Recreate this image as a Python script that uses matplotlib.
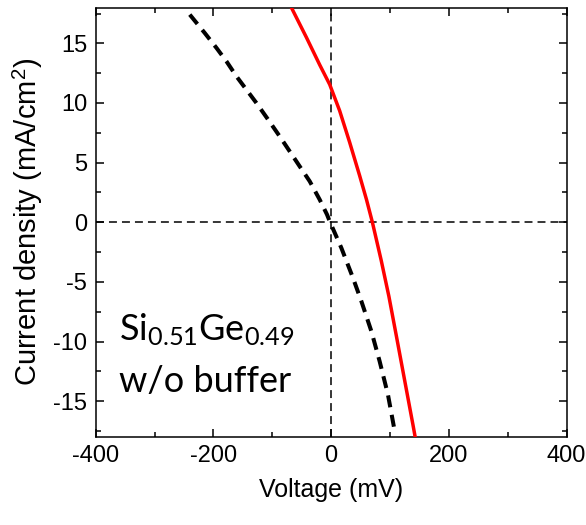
import matplotlib
matplotlib.use("Agg")
import matplotlib.pyplot as plt
from matplotlib.ticker import MultipleLocator

plt.rcParams['font.family'] = ['Liberation Sans', 'DejaVu Sans']
plt.rcParams['axes.unicode_minus'] = False
plt.rcParams['mathtext.fontset'] = 'custom'
plt.rcParams['mathtext.rm'] = 'Lato'
plt.rcParams['mathtext.it'] = 'Lato'
plt.rcParams['mathtext.sf'] = 'Liberation Sans'

# Data
v_red = [-67.6, -42.1, -19.5, -2.5, 14.4, 31.4, 48.4, 60, 70,
         85, 98, 111, 125, 139, 146]
j_red = [18.0, 15.5, 13.2, 11.55, 9.35, 6.7, 3.9, 1.9, 0,
         -3.2, -6.2, -9.6, -13.3, -17.0, -18.9]

v_black = [-240.2, -214.8, -194.9, -178, -161, -144, -127, -107, -87.4, -70.5,
           -53.5, -36.5, -19.5, -7.1, -2.5, 17.3, 37, 51.3, 68.3, 82.3, 96.4, 107.5]
j_black = [17.41, 15.87, 14.62, 13.5, 12.24, 11.12, 10.0, 8.6, 7.2, 5.95,
           4.69, 3.44, 1.9, 0.65, 0.08, -2.15, -4.66, -6.62, -9.14, -11.65, -14.44, -17.4]

x_ticks = [-400, -200, 0, 200, 400]
y_ticks = [-15, -10, -5, 0, 5, 10, 15]

fig = plt.figure(figsize=(5.86, 5.25), dpi=100)
ax = fig.add_axes([0.1633, 0.1676, 0.8037, 0.818])

ax.axhline(0, color='black', lw=1.1, dashes=(5.2, 3.3), zorder=1)
ax.axvline(0, color='black', lw=1.1, dashes=(5.2, 3.3), zorder=1)

ax.plot(v_black, j_black, color='black', lw=2.9, dashes=(3, 1.9), zorder=2)
ax.plot(v_red, j_red, color='#ff0000', lw=2.5, zorder=3)

ax.set_xlim(-400, 400)
ax.set_ylim(-18, 18)
ax.set_xticks(x_ticks)
ax.set_yticks(y_ticks)
ax.xaxis.set_minor_locator(MultipleLocator(100))
ax.yaxis.set_minor_locator(MultipleLocator(2.5))
ax.tick_params(which='both', direction='in', top=True, right=True, width=1.1,
               labelsize=17, labelright=False, labeltop=False)
ax.tick_params(which='major', length=5.8, pad=6)
ax.tick_params(which='minor', length=3.6)
for s in ax.spines.values():
    s.set_linewidth(1.1)

ax.set_xlabel('Voltage (mV)', fontsize=18, labelpad=8)
ax.set_ylabel(r'Current density (mA/cm$^\mathsf{2}$)', fontsize=21, labelpad=6)

fig.text(119 / 586, 1 - 340 / 525, r'$\mathrm{Si}_{0.51}\mathrm{Ge}_{0.49}$',
         fontsize=26, ha='left', va='baseline')
fig.text(119 / 586, 1 - 391.7 / 525, 'w/o buffer', family='Lato',
         fontsize=26, ha='left', va='baseline')

fig.savefig('out.png', dpi=100)
